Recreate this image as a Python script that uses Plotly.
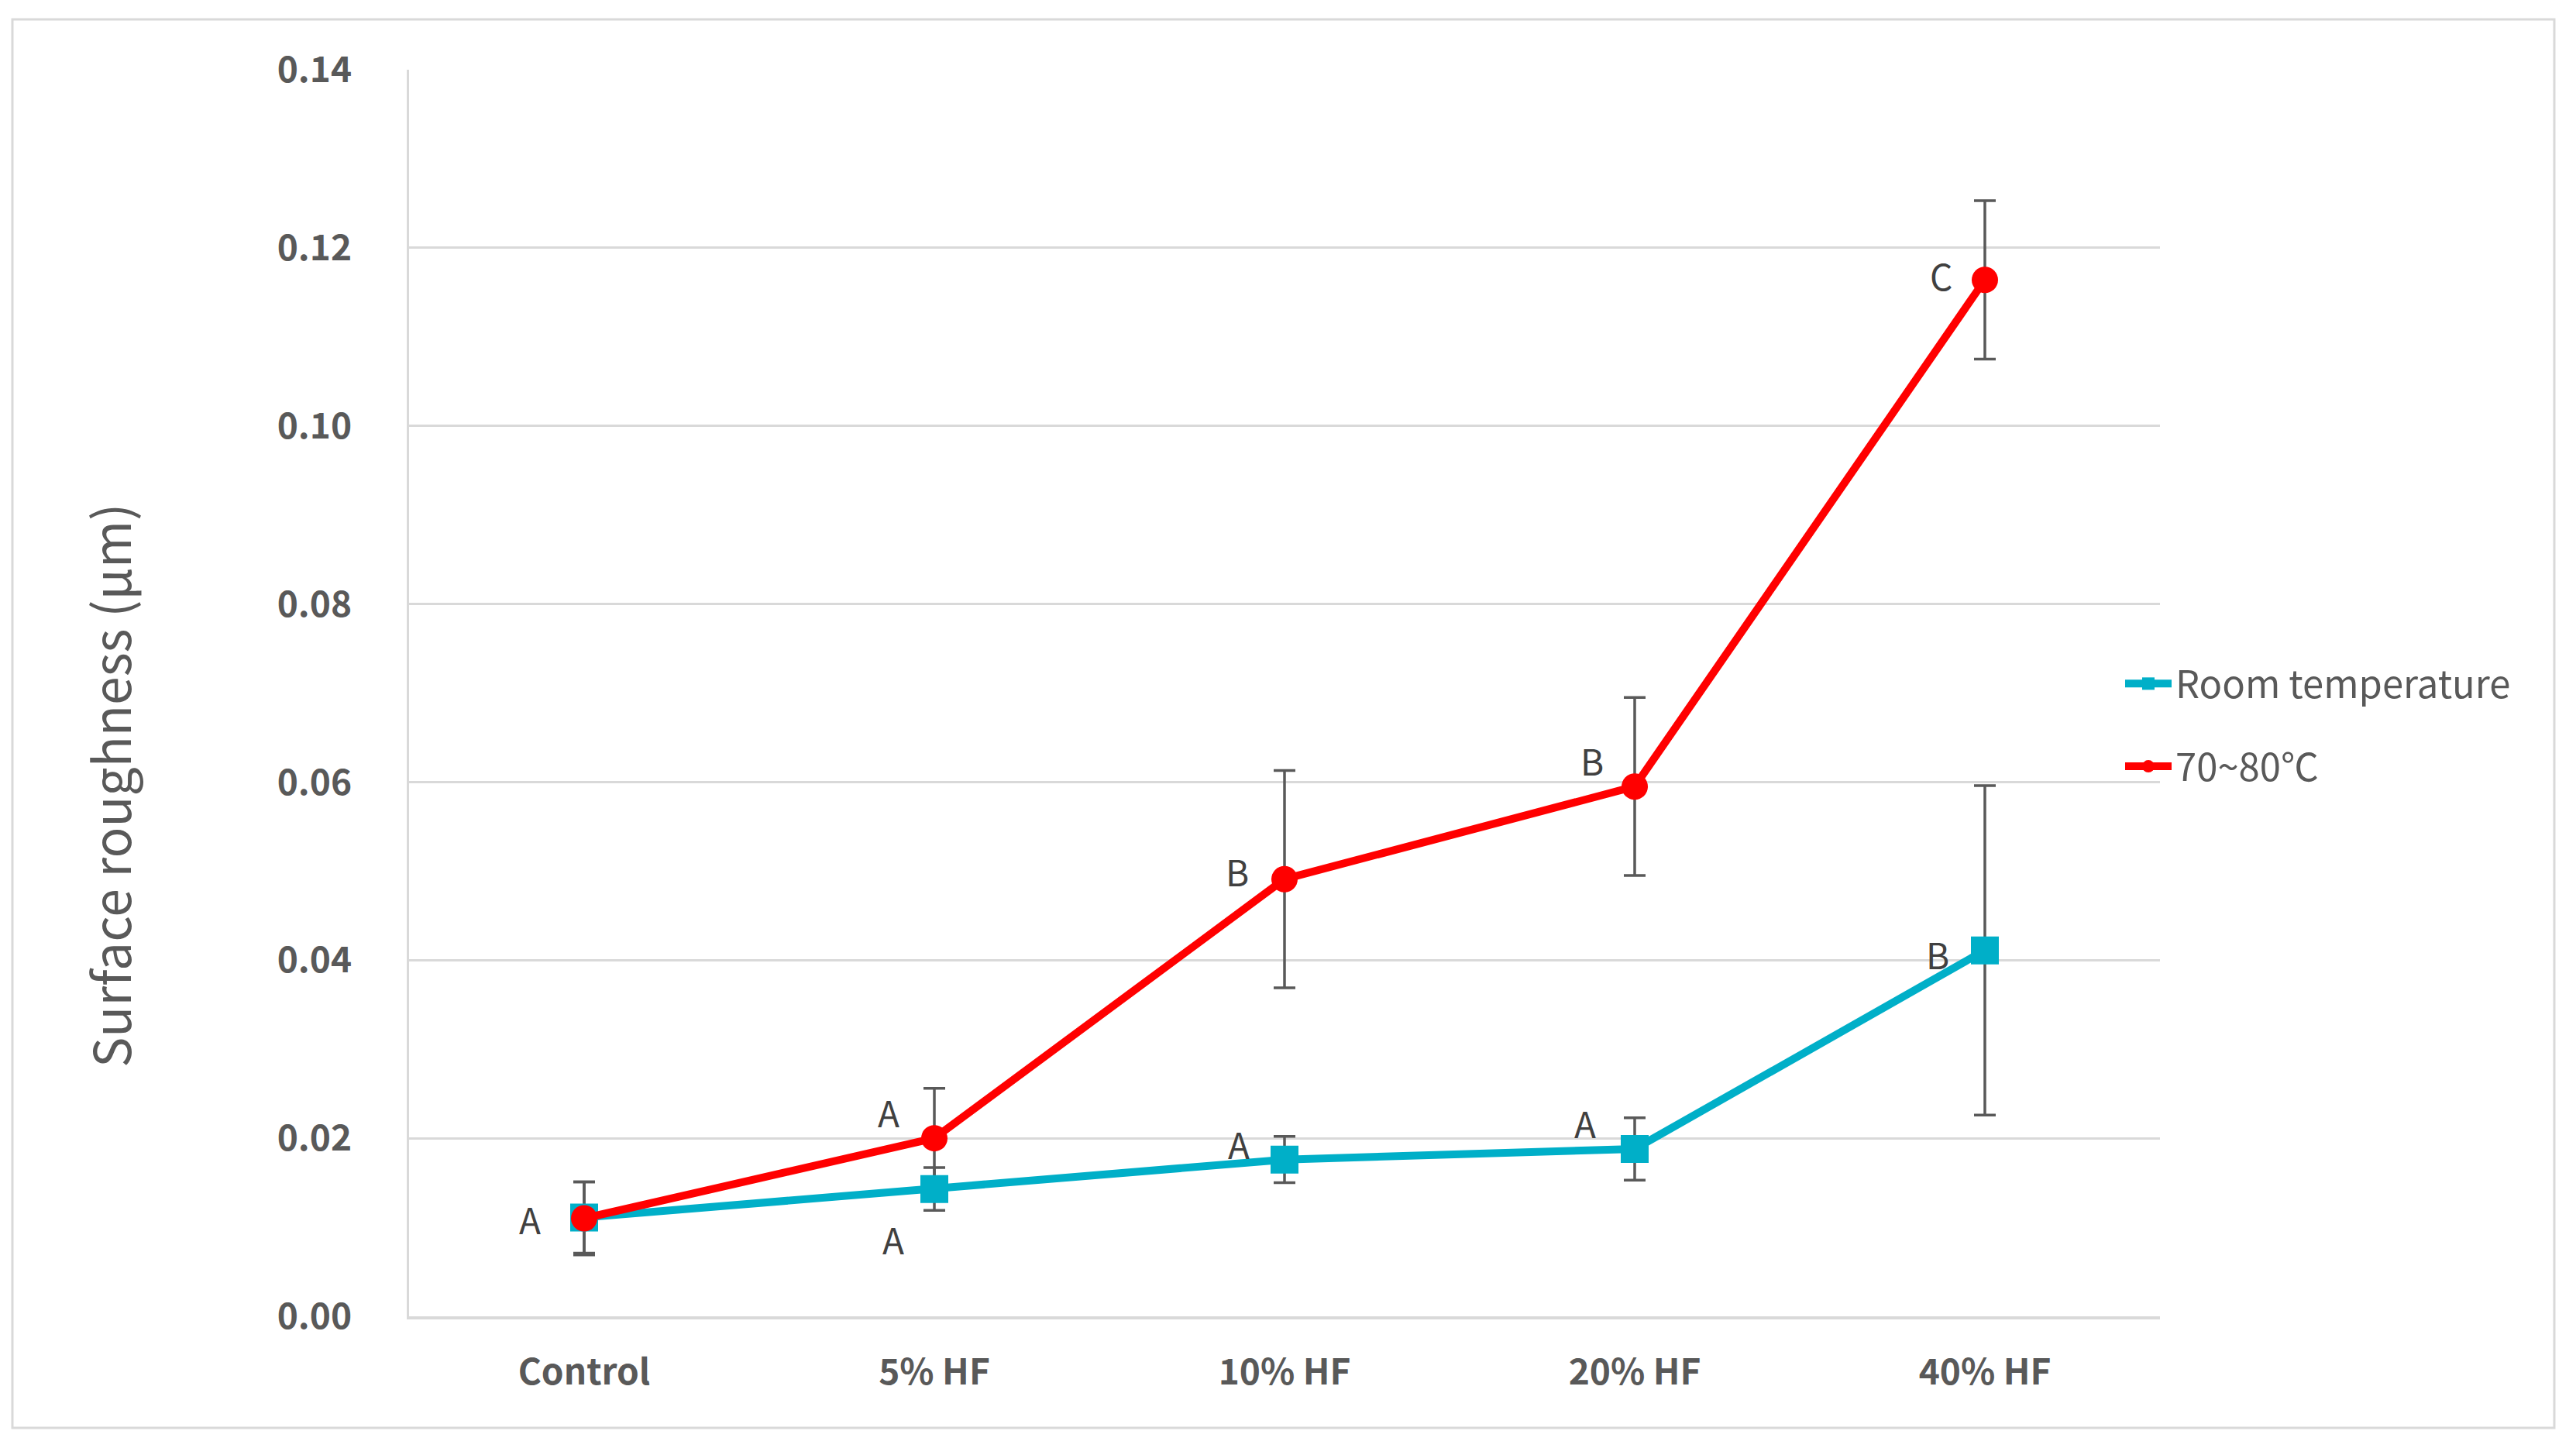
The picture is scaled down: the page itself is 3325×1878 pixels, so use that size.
import plotly.graph_objects as go

# ---- data ----
categories = ["Control", "5% HF", "10% HF", "20% HF", "40% HF"]
room_mean = [0.0111, 0.0143, 0.0176, 0.0188, 0.0411]
room_err = [0.0040, 0.0024, 0.0026, 0.0035, 0.0185]
hot_mean = [0.0110, 0.0200, 0.0491, 0.0595, 0.1164]
hot_err = [0.0041, 0.0056, 0.0122, 0.0100, 0.0089]
room_letters = ["", "A", "A", "A", "B"]
hot_letters = ["A", "A", "B", "B", "C"]
series_names = ["Room temperature", "70~80\u2103"]
y_ticks = [0.00, 0.02, 0.04, 0.06, 0.08, 0.10, 0.12, 0.14]

# page offset of the figure (browser body margin)
OFF = 8
W, H = 3317, 1862
# plot area in page pixels: x 528..2788, y 90..1699
L = 528 - OFF
T = 90 - OFF
R = W - (2788 - OFF)
B = H - (1699 - OFF)
PW, PH = W - L - R, H - T - B


def px(xp):  # page x -> paper
    return (xp - OFF - L) / PW


def py(yp):  # page y -> paper
    return (1699 - yp) / PH


FONT = "Noto Sans CJK KR, Noto Sans, Arial, sans-serif"
GRAY = "#595959"
CYAN = "#00AFC8"
RED = "#FF0000"

fig = go.Figure()

# error bars first (drawn beneath all markers)
for mean, err in [(room_mean, room_err), (hot_mean, hot_err)]:
    fig.add_trace(go.Scatter(
        x=categories, y=mean, mode="markers",
        marker=dict(size=1, color="rgba(0,0,0,0)"),
        error_y=dict(type="data", array=err, visible=True,
                     color=GRAY, thickness=3.5, width=14),
        showlegend=False, hoverinfo="skip"))

fig.add_trace(go.Scatter(
    x=categories, y=room_mean, mode="lines+markers", name=series_names[0],
    line=dict(color=CYAN, width=10),
    marker=dict(symbol="square", size=36, color=CYAN),
    legendgroup="a"))
fig.add_trace(go.Scatter(
    x=categories, y=hot_mean, mode="lines+markers", name=series_names[1],
    line=dict(color=RED, width=10),
    marker=dict(symbol="circle", size=34, color=RED),
    legendgroup="b"))

# significance letters
room_shift = [(0, 0), (-53, -64), (-59, 21), (-64, 34), (-61, -4)]
hot_shift = [(-70, 0), (-59, 34), (-61, 11), (-55, 34), (-57, 6)]
for letters, mean, shifts in [(room_letters, room_mean, room_shift),
                              (hot_letters, hot_mean, hot_shift)]:
    for cat, val, lab, (dx, dy) in zip(categories, mean, letters, shifts):
        if not lab:
            continue
        fig.add_annotation(x=cat, y=val, text=lab, showarrow=False,
                           xshift=dx, yshift=dy,
                           font=dict(family=FONT, size=46, color="#404040"))

# y-axis title
fig.add_annotation(xref="paper", yref="paper",
                   x=px(140), y=py(1014),
                   text="Surface roughness (\u03bcm)", textangle=-90,
                   showarrow=False, xanchor="center", yanchor="middle",
                   font=dict(family=FONT, size=66, color=GRAY))

# outer border
fig.add_shape(type="rect", xref="paper", yref="paper",
              x0=px(16), x1=px(3297), y0=py(1843), y1=py(25),
              line=dict(color="#D9D9D9", width=3), fillcolor="rgba(0,0,0,0)",
              layer="below")

fig.update_layout(
    width=W, height=H,
    margin=dict(l=L, r=R, t=T, b=B, pad=0),
    paper_bgcolor="white", plot_bgcolor="white",
    font=dict(family=FONT, color=GRAY),
    showlegend=True,
    legend=dict(x=px(2738), y=py(936),
                xanchor="left", yanchor="middle",
                bgcolor="rgba(0,0,0,0)",
                font=dict(family=FONT, size=49, color=GRAY),
                traceorder="grouped", tracegroupgap=40,
                itemwidth=60),
    xaxis=dict(type="category", range=[-0.5, 4.5], showgrid=False,
               showline=True, linecolor="#D9D9D9", linewidth=4,
               ticks="", zeroline=False, ticklabelstandoff=29,
               tickfont=dict(family=FONT, size=46, color=GRAY, weight="bold")),
    yaxis=dict(range=[0, 0.14], tickvals=y_ticks, tickformat=".2f",
               showgrid=True, gridcolor="#D9D9D9", gridwidth=2.5,
               showline=True, linecolor="#D9D9D9", linewidth=2.5,
               zeroline=False, ticks="", ticklabelstandoff=62,
               tickfont=dict(family=FONT, size=46, color=GRAY, weight="bold")),
)

fig.write_html("out.html")
